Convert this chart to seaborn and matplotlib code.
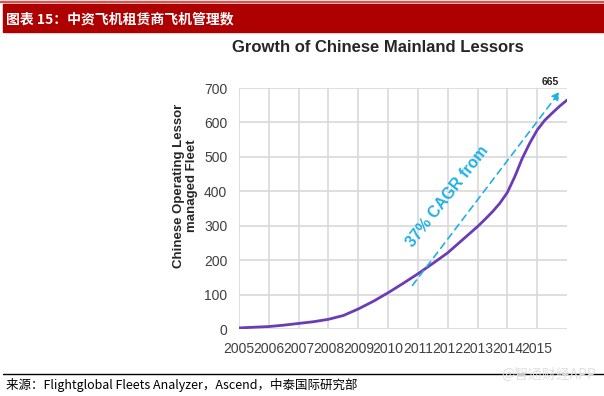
import seaborn as sns
import matplotlib.pyplot as plt
import pandas as pd

# Dados (frota gerida)
anos = [2005, 2005.5, 2006, 2006.5, 2007, 2007.5, 2008, 2008.5, 2009, 2009.5,
        2010, 2010.5, 2011, 2011.5, 2012, 2012.5, 2013, 2013.25, 2013.5, 2013.75,
        2014, 2014.25, 2014.5, 2014.75, 2015, 2015.25, 2015.5, 2015.75, 2016]
frota = [4, 6, 8, 12, 17, 22, 29, 40, 59, 81,
         106, 133, 161, 191, 222, 260, 298, 319, 341, 366,
         397, 443, 496, 540, 578, 606, 627, 647, 665]
rotulos_x = [str(a) for a in range(2005, 2016)]
ticks_y = [0, 100, 200, 300, 400, 500, 600, 700]

df = pd.DataFrame({'Ano': anos, 'Frota': frota})

sns.set_style('whitegrid')
plt.rcParams['font.family'] = ['Liberation Sans', 'Noto Sans CJK SC', 'DejaVu Sans']

fig = plt.figure(figsize=(6.04, 3.96), dpi=100)

# Faixa vermelha do título
fig.patches.append(plt.Rectangle((3 / 604, 1 - 32 / 396), 601 / 604, 28 / 396,
                                 transform=fig.transFigure, color='#AE0000', zorder=0))
fig.patches.append(plt.Rectangle((0, 1 - 2 / 396), 1, 1.5 / 396,
                                 transform=fig.transFigure, color='#D9534F', zorder=0))
fig.text(6 / 604, 1 - 19 / 396, '图表 15：中资飞机租赁商飞机管理数', color='white',
         fontsize=10, fontweight='bold', va='center', ha='left',
         family=['Noto Sans CJK SC', 'DejaVu Sans'])

ax = fig.add_axes([239 / 604, 1 - 329.3 / 396, 328 / 604, 241.3 / 396])
sns.lineplot(x='Ano', y='Frota', data=df, ax=ax, color='#6A3CB5', linewidth=2)

ax.set_xlim(2005, 2016)
ax.set_ylim(0, 700)
ax.set_xticks(range(2005, 2016))
ax.set_xticklabels(rotulos_x)
ax.set_yticks(ticks_y)
ax.grid(True, color='#D9D9D9', linewidth=1.2)
for s in ax.spines.values():
    s.set_visible(False)
ax.tick_params(axis='both', labelsize=10, colors='#404040', length=0)
ax.tick_params(axis='x', pad=9)
ax.tick_params(axis='y', pad=8.5)
ax.set_xlabel('')
ax.set_ylabel('Chinese Operating Lessor\nmanaged Fleet', fontsize=9.5,
              fontweight='bold', color='#262626', linespacing=1.2, va='center')
ax.yaxis.set_label_coords(-0.163, 0.594)

fig.text(378 / 604, 1 - 47 / 396, 'Growth of Chinese Mainland Lessors', fontsize=12,
         fontweight='bold', color='#262626', ha='center', va='center')

# Seta tracejada e anotações
ax.annotate('', xy=(2015.82, 696), xytext=(2010.76, 121),
            arrowprops=dict(arrowstyle='-|>', linestyle=(0, (4, 3)), color='#1FB0E4',
                            lw=1.2, mutation_scale=12),
            annotation_clip=False)
ax.text(2012.0, 385, '37% CAGR from', rotation=52, rotation_mode='anchor',
        ha='center', va='center', color='#1FB0E4', fontsize=11.5, fontweight='bold')
ax.text(2015.43, 718, '665', ha='center', va='center', fontsize=7.5,
        fontweight='bold', color='#222222', clip_on=False)

# Rodapé
fig.add_artist(plt.Line2D([3 / 604, 1], [1 - 374 / 396, 1 - 374 / 396],
                          transform=fig.transFigure, color='black', linewidth=1))
fig.text(6 / 604, 1 - 385 / 396, '来源：Flightglobal Fleets Analyzer，Ascend，中泰国际研究部',
         fontsize=9, va='center', ha='left', color='black',
         family=['Noto Sans CJK SC', 'DejaVu Sans'])
fig.text(596 / 604, 1 - 375 / 396, '@智通财经APP', fontsize=10, va='center', ha='right',
         color='#E0E0E0', family=['Noto Sans CJK SC', 'DejaVu Sans'])

plt.savefig('out.png', dpi=100)
